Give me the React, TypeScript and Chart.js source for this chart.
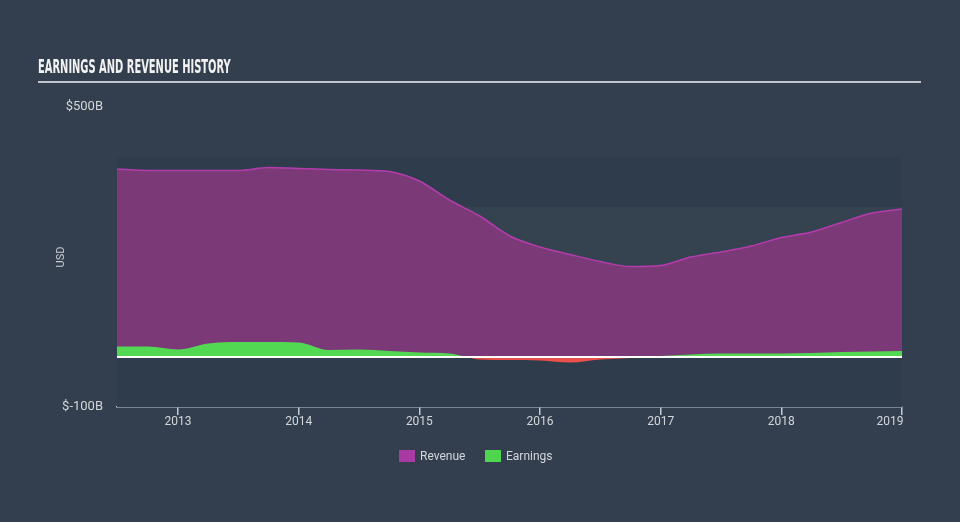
import React, { useEffect, useRef } from 'react';
import { Chart, registerables } from 'chart.js';

Chart.register(...registerables);

// Period (decimal year) of each data point
const periodYears = [
  2012.494, 2012.75, 2013.0, 2013.25, 2013.5, 2013.75, 2014.0, 2014.25, 2014.5,
  2014.75, 2015.0, 2015.25, 2015.5, 2015.75, 2016.0, 2016.25, 2016.5, 2016.75,
  2017.0, 2017.25, 2017.5, 2017.75, 2018.0, 2018.25, 2018.5, 2018.75, 2019.0,
];

// Revenue in $B
const revenue = [
  376, 373, 373, 373, 373, 379, 377, 375, 374, 371, 352, 314, 282, 242, 220, 205,
  191, 181, 183, 200, 210, 222, 239, 250, 269, 288, 296,
];

// Earnings in $B
const earnings = [
  21, 21, 15, 27, 30, 30, 29, 14, 15, 12, 9, 7, -5, -6, -7, -11, -5, -2, 2, 5, 7,
  7, 7, 8, 10, 11, 12,
];

const xTickYears = [2013, 2014, 2015, 2016, 2017, 2018, 2019];
const yTickValues = [-100, 0, 500];
const bandEdges = [400, 300, 0, -100];

const BG = '#333f4e';
const BAND_DARK = '#2f3c4b';
const BAND_LIGHT = '#354250';
const AXIS = '#c3cad2';
const TEXT = '#d3d7dc';

export default function App() {
  const ref = useRef<HTMLCanvasElement | null>(null);

  useEffect(() => {
    if (!ref.current) return;

    const bandsPlugin = {
      id: 'bands',
      beforeDatasetsDraw(chart: any) {
        const { ctx, chartArea, scales } = chart;
        const y = scales.y;
        ctx.save();
        for (let i = 0; i < bandEdges.length - 1; i++) {
          const top = y.getPixelForValue(bandEdges[i]);
          const bot = y.getPixelForValue(bandEdges[i + 1]);
          ctx.fillStyle = i % 2 === 0 ? BAND_DARK : BAND_LIGHT;
          ctx.fillRect(chartArea.left, top, chartArea.right - chartArea.left, bot - top);
        }
        ctx.restore();
      },
    };

    const zeroPlugin = {
      id: 'zeroLine',
      afterDatasetsDraw(chart: any) {
        const { ctx, chartArea, scales } = chart;
        const py = scales.y.getPixelForValue(0);
        ctx.save();
        ctx.strokeStyle = '#ffffff';
        ctx.lineWidth = 2;
        ctx.beginPath();
        ctx.moveTo(chartArea.left, py);
        ctx.lineTo(chartArea.right, py);
        ctx.stroke();
        ctx.restore();
      },
    };

    const chart = new Chart(ref.current, {
      type: 'line',
      data: {
        datasets: [
          {
            label: 'Revenue',
            data: periodYears.map((x, i) => ({ x, y: revenue[i] })),
            fill: 'origin',
            backgroundColor: '#7b3a77',
            borderColor: '#b43cad',
            borderWidth: 1.5,
            pointRadius: 0,
            cubicInterpolationMode: 'monotone',
            order: 2,
          },
          {
            label: 'Earnings',
            data: periodYears.map((x, i) => ({ x, y: earnings[i] })),
            fill: { target: 'origin', above: '#53d853', below: '#e9514b' },
            backgroundColor: '#53d853',
            borderColor: 'rgba(0,0,0,0)',
            borderWidth: 0,
            pointRadius: 0,
            cubicInterpolationMode: 'monotone',
            order: 1,
          },
        ],
      },
      options: {
        animation: false,
        responsive: false,
        maintainAspectRatio: false,
        layout: { padding: { left: 0, right: 58, top: 107, bottom: 0 } },
        plugins: {
          legend: { display: false },
          tooltip: { enabled: false },
        },
        scales: {
          x: {
            type: 'linear',
            min: 2012.494,
            max: 2019,
            afterBuildTicks: (s: any) => {
              s.ticks = xTickYears.map((v) => ({ value: v }));
            },
            afterFit: (s: any) => {
              s.height = 522 - 407;
            },
            grid: {
              display: true,
              drawOnChartArea: false,
              drawTicks: true,
              tickLength: 8,
              color: AXIS,
              lineWidth: 1.5,
            },
            border: { display: true, color: AXIS, width: 1.5 },
            ticks: {
              color: TEXT,
              font: { family: 'Roboto', size: 12 },
              padding: 0,
              maxRotation: 0,
              autoSkip: false,
              callback: (v: any) => (v === 2019 ? '2019        ' : String(v)),
            },
          },
          y: {
            type: 'linear',
            min: -100,
            max: 500,
            afterBuildTicks: (s: any) => {
              s.ticks = yTickValues.map((v) => ({ value: v }));
            },
            afterFit: (s: any) => {
              s.width = 117;
            },
            grid: { display: false },
            border: { display: false },
            ticks: {
              color: TEXT,
              font: { family: 'Roboto', size: 13 },
              padding: 6,
              callback: (v: any) => (v === 0 ? '' : '$' + v + 'B'),
            },
            title: {
              display: true,
              text: 'USD',
              color: '#c8cdd2',
              font: { family: 'Roboto', size: 11 },
              padding: { top: 55, bottom: 0 },
            },
          },
        },
      },
      plugins: [bandsPlugin, zeroPlugin],
    } as any);

    return () => chart.destroy();
  }, []);

  return (
    <div
      style={{
        position: 'fixed',
        left: 0,
        top: 0,
        width: 960,
        height: 522,
        background: BG,
        overflow: 'hidden',
        fontFamily: 'Roboto, sans-serif',
      }}
    >
      <canvas ref={ref} width={960} height={522} style={{ position: 'absolute', left: 0, top: 0 }} />
      <div
        style={{
          position: 'absolute',
          left: 38,
          top: 54,
          fontFamily: '"Liberation Sans Narrow", "DejaVu Sans Condensed", sans-serif',
          fontWeight: 700,
          fontSize: 19,
          lineHeight: '24px',
          color: '#f2f2f2',
          whiteSpace: 'nowrap',
          transform: 'scaleX(0.58)',
          transformOrigin: 'left top',
        }}
      >
        EARNINGS AND REVENUE HISTORY
      </div>
      <div style={{ position: 'absolute', left: 38, top: 81, width: 883, height: 2, background: '#c0c6cc' }} />
      <div style={{ position: 'absolute', left: 399, top: 450, width: 16, height: 12, background: '#a93aa4' }} />
      <div style={{ position: 'absolute', left: 420, top: 448, fontSize: 12, lineHeight: '16px', color: TEXT }}>Revenue</div>
      <div style={{ position: 'absolute', left: 485, top: 450, width: 16, height: 12, background: '#4fd64f' }} />
      <div style={{ position: 'absolute', left: 506, top: 448, fontSize: 12, lineHeight: '16px', color: TEXT }}>Earnings</div>
    </div>
  );
}
